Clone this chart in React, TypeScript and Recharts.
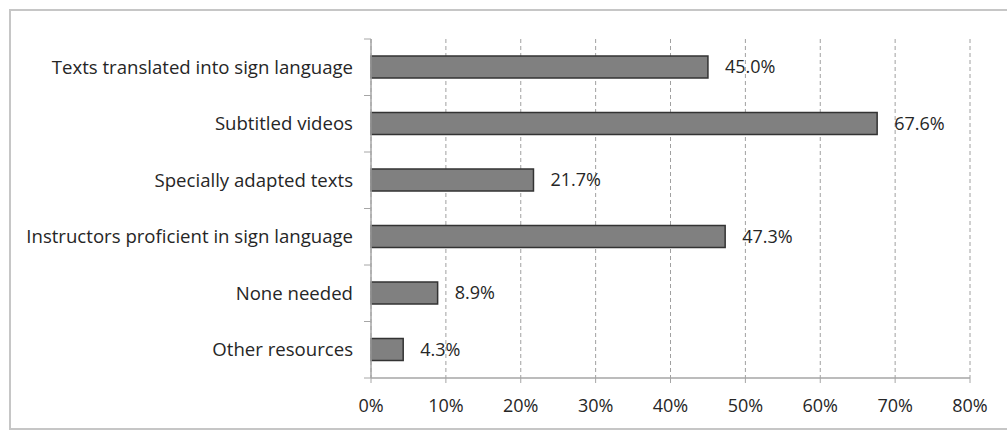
import { BarChart, Bar, XAxis, YAxis, CartesianGrid, LabelList } from 'recharts';

const categories = [
  'Texts translated into sign language',
  'Subtitled videos',
  'Specially adapted texts',
  'Instructors proficient in sign language',
  'None needed',
  'Other resources',
];
const shares = [45.0, 67.6, 21.7, 47.3, 8.9, 4.3];
const xTicks = [0, 10, 20, 30, 40, 50, 60, 70, 80];

const data = categories.map((name, i) => ({ name, value: shares[i] }));

const W = 1007;
const H = 431;
const M = { top: 39, right: 37, bottom: 0, left: 0 };
const Y_W = 371;
const X_H = 53;
const PLOT_H = H - M.top - M.bottom - X_H;
const BAND = PLOT_H / categories.length;
const FONT = 'Open Sans, sans-serif';
const FS = 18;
const TEXT = '#262626';
const AXIS = '#a6a6a6';

function CatTick(props: any) {
  const { x, y, payload, index } = props;
  const ax = Y_W;
  return (
    <g>
      <text x={x} y={y} dy="0.35em" textAnchor="end" fontSize={18.6} fill={TEXT} fontFamily={FONT}>
        {payload.value}
      </text>
      <line x1={ax - 7} x2={ax} y1={y - BAND / 2} y2={y - BAND / 2} stroke={AXIS} />
      {index === categories.length - 1 && (
        <line x1={ax - 7} x2={ax} y1={y + BAND / 2} y2={y + BAND / 2} stroke={AXIS} />
      )}
    </g>
  );
}

export default function App() {
  return (
    <div style={{ position: 'absolute', left: 0, top: 0, width: W, height: H, background: '#fff', overflow: 'hidden' }}>
      <div style={{ position: 'absolute', left: 9, top: 9, width: W + 20, height: H - 10, border: '2px solid #c6c6c6', boxSizing: 'border-box' }} />
      <div style={{ position: 'absolute', left: 0, top: 0 }}>
        <BarChart width={W} height={H} data={data} layout="vertical" margin={M} barSize={22}>
          <CartesianGrid horizontal={false} stroke="#a0a0a0" strokeDasharray="4 3" />
          <XAxis
            type="number"
            domain={[0, 80]}
            ticks={xTicks}
            tickFormatter={(v: number) => `${v}%`}
            height={X_H}
            axisLine={{ stroke: AXIS, strokeWidth: 1.5 }}
            tickLine={{ stroke: AXIS }}
            tickSize={5}
            tickMargin={16}
            tick={{ fontSize: FS, fill: TEXT, fontFamily: FONT }}
          />
          <YAxis
            type="category"
            dataKey="name"
            width={Y_W}
            axisLine={{ stroke: AXIS, strokeWidth: 1.5 }}
            tickLine={false}
            tickSize={6}
            tickMargin={12}
            tick={<CatTick />}
            interval={0}
          />
          <Bar dataKey="value" fill="#808080" stroke="#333333" strokeWidth={1.5} isAnimationActive={false}>
            <LabelList
              dataKey="value"
              position="right"
              offset={17}
              formatter={(v: number) => `${v.toFixed(1)}%`}
              style={{ fontSize: FS, fill: TEXT, fontFamily: FONT }}
            />
          </Bar>
        </BarChart>
      </div>
    </div>
  );
}
